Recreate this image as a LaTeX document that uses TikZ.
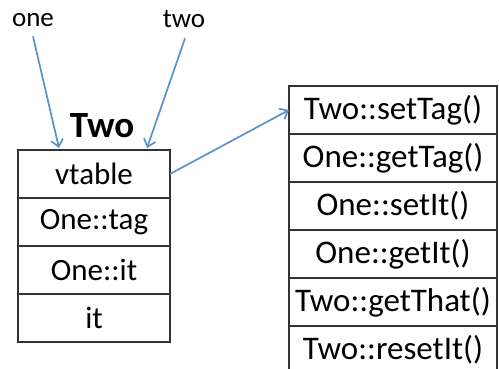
\documentclass[tikz,border=0pt]{standalone}
\usepackage{fontspec}
\setmainfont{Carlito}
\usepackage{tikz}
\usetikzlibrary{arrows.meta,positioning,calc}

\definecolor{ptrblue}{RGB}{88,146,205}
\tikzset{
  cell/.style={draw=black!80, line width=1.2pt, minimum height=48pt, inner sep=0pt,
    outer sep=0pt, font=\fontsize{31}{34}\selectfont},
  objcell/.style={cell, minimum width=152pt},
  vtcell/.style={cell, minimum width=208pt, font=\fontsize{33}{36}\selectfont},
  ptr/.style={draw=ptrblue, line width=1.7pt, -{Straight Barb[length=7pt,width=12pt]}},
  lbl/.style={font=\fontsize{27}{30}\selectfont, inner sep=0pt}
}

\begin{document}
\begin{tikzpicture}[x=1pt, y=-1pt]
    \useasboundingbox (0, 0) rectangle (499, 369);

    % Object of class Two
    \node[objcell] (vt) at (94, 174) {vtable};
    \node[objcell, below=0pt of vt] (onetag) {One::tag};
    \node[objcell, below=0pt of onetag] (oneit) {One::it};
    \node[objcell, below=0pt of oneit] (it) {it};
    \node[lbl, font=\fontsize{37}{40}\selectfont\bfseries, anchor=base] (title) at (102, 138) {Two};

    % Virtual table
    \node[vtcell] (settag) at (393, 110) {Two::setTag()};
    \node[vtcell, below=0pt of settag] (gettag) {One::getTag()};
    \node[vtcell, below=0pt of gettag] (setit) {One::setIt()};
    \node[vtcell, below=0pt of setit] (getit) {One::getIt()};
    \node[vtcell, below=0pt of getit] (getthat) {Two::getThat()};
    \node[vtcell, draw=none, below=0pt of getthat] (resetit) {Two::resetIt()};
    \draw[draw=black!80, line width=1.2pt] (resetit.south west) -- (resetit.north west)
        (resetit.north east) -- (resetit.south east);

    % Pointers
    \node[lbl, anchor=base] (one) at (33, 27) {one};
    \node[lbl, anchor=base] (two) at (184, 28) {two};
    \coordinate (oneend) at ($(vt.north west)+(41, -2)$);
    \coordinate (twoend) at ($(vt.north west)+(129, -2)$);

    \draw[ptr] ($(one.south)+(0, 9)$) -- (oneend);
    \draw[ptr] ($(two.south)+(1, 10)$) -- (twoend);
    \draw[ptr] (vt.east) -- (settag.west);
\end{tikzpicture}
\end{document}
